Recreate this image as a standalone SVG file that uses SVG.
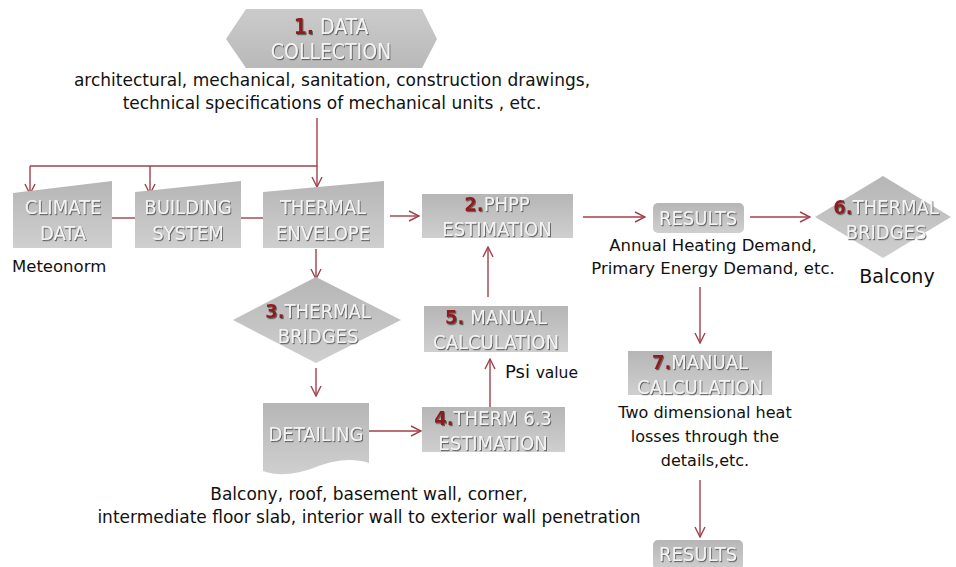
<svg xmlns="http://www.w3.org/2000/svg" width="956" height="567" viewBox="0 0 956 567">
  <defs>
    <linearGradient id="shade" x1="0" y1="0" x2="0" y2="1">
      <stop offset="0" stop-color="#b6b6b6"/>
      <stop offset="1" stop-color="#cfcfcf"/>
    </linearGradient>
    <linearGradient id="shadeHex" x1="0" y1="0" x2="0" y2="1">
      <stop offset="0" stop-color="#cbcbcb"/>
      <stop offset="1" stop-color="#b9b9b9"/>
    </linearGradient>
    <filter id="emboss" x="-10%" y="-20%" width="120%" height="150%">
      <feDropShadow dx="1" dy="1.2" stdDeviation="0.7" flood-color="#555" flood-opacity="0.85"/>
    </filter>
    <marker id="arrow" viewBox="0 0 12 12" refX="11" refY="6" markerWidth="12" markerHeight="12" markerUnits="userSpaceOnUse" orient="auto">
      <path d="M1,1 L11,6 L1,11" fill="none" stroke="#a3404a" stroke-width="1.4"/>
    </marker>
    <style>
      .shape { fill: url(#shade); }
      .label { font-family: "DejaVu Sans Condensed", "DejaVu Sans", sans-serif; font-stretch: condensed; font-size: 20px; fill: #f3f3f3; text-anchor: middle; filter: url(#emboss); }
      .num { fill: #8e1b1f; font-weight: bold; }
      .note { font-family: "DejaVu Sans", "Liberation Sans", sans-serif; font-size: 17px; fill: #111; text-anchor: middle; }
      .link { fill: none; stroke: #a3404a; stroke-width: 1.4; }
      .link-a { fill: none; stroke: #a3404a; stroke-width: 1.4; marker-end: url(#arrow); }
    </style>
  </defs>

  <!-- connectors -->
  <g id="connectors">
    <path class="link" d="M317,118 V166 H30"/>
    <path class="link-a" d="M30,166 V194"/>
    <path class="link-a" d="M150,166 V194"/>
    <path class="link-a" d="M317,166 V187"/>
    <path class="link" d="M112,218 H135"/>
    <path class="link" d="M241,218 H263"/>
    <path class="link-a" d="M390,216 H419"/>
    <path class="link-a" d="M316,249 V279"/>
    <path class="link-a" d="M316,368 V396"/>
    <path class="link-a" d="M369,431 H421"/>
    <path class="link-a" d="M490,407 V359"/>
    <path class="link-a" d="M488,297 V247"/>
    <path class="link-a" d="M583,217 H645"/>
    <path class="link-a" d="M750,217 H810"/>
    <path class="link-a" d="M700,287 V343"/>
    <path class="link-a" d="M700,480 V537"/>
  </g>

  <!-- 1. data collection -->
  <g id="data-collection">
    <polygon class="shape" style="fill:url(#shadeHex)" points="226,39 246,9 422,9 437,39 422,68 246,68"/>
    <text class="label" x="331" y="34" style="font-size:21px"><tspan class="num">1.</tspan> DATA</text>
    <text class="label" x="331" y="59" style="font-size:21px">COLLECTION</text>
    <text class="note" x="332" y="86">architectural, mechanical, sanitation, construction drawings,</text>
    <text class="note" x="332" y="109">technical specifications of mechanical units , etc.</text>
  </g>

  <g id="climate-data">
    <polygon class="shape" points="13,193 112,181 112,248 13,248"/>
    <text class="label" x="63" y="214">CLIMATE</text>
    <text class="label" x="63" y="240">DATA</text>
    <text class="note" x="12" y="272" style="text-anchor:start;font-size:16.5px">Meteonorm</text>
  </g>

  <g id="building-system">
    <polygon class="shape" points="135,192 241,181 241,248 135,248"/>
    <text class="label" x="188" y="214">BUILDING</text>
    <text class="label" x="188" y="240">SYSTEM</text>
  </g>

  <g id="thermal-envelope">
    <polygon class="shape" points="263,192 384,181 384,248 263,248"/>
    <text class="label" x="323" y="214">THERMAL</text>
    <text class="label" x="323" y="240">ENVELOPE</text>
  </g>

  <g id="phpp-estimation">
    <rect class="shape" x="422" y="194" width="151" height="44"/>
    <text class="label" x="497" y="211"><tspan class="num">2.</tspan>PHPP</text>
    <text class="label" x="497" y="236">ESTIMATION</text>
  </g>

  <g id="results">
    <rect class="shape" x="653" y="203" width="91" height="30" rx="5"/>
    <text class="label" x="698" y="225">RESULTS</text>
    <text class="note" x="713" y="251" style="font-size:16.5px">Annual Heating Demand,</text>
    <text class="note" x="713" y="274" style="font-size:16.5px">Primary Energy Demand, etc.</text>
  </g>

  <g id="thermal-bridges-balcony">
    <polygon class="shape" points="815,217 883,176 951,217 883,258"/>
    <text class="label" x="886" y="214"><tspan class="num">6.</tspan>THERMAL</text>
    <text class="label" x="886" y="239">BRIDGES</text>
    <text class="note" x="897" y="283" style="font-size:19px">Balcony</text>
  </g>

  <g id="thermal-bridges">
    <polygon class="shape" points="233,320 316,277 401,320 316,363"/>
    <text class="label" x="318" y="318"><tspan class="num">3.</tspan>THERMAL</text>
    <text class="label" x="318" y="343">BRIDGES</text>
  </g>

  <g id="manual-calculation-psi">
    <rect class="shape" x="424" y="306" width="144" height="46"/>
    <text class="label" x="496" y="324"><tspan class="num">5.</tspan> MANUAL</text>
    <text class="label" x="496" y="349">CALCULATION</text>
    <text class="note" x="505" y="378" style="text-anchor:start;font-size:18px">Psi <tspan style="font-size:15.5px">value</tspan></text>
  </g>

  <g id="detailing">
    <path class="shape" d="M263,403 H369 V463 C350,457 332,461 316,467 C298,474 280,477 263,471 Z"/>
    <text class="label" x="316" y="441">DETAILING</text>
  </g>

  <g id="therm-estimation">
    <rect class="shape" x="422" y="407" width="143" height="45"/>
    <text class="label" x="493" y="425"><tspan class="num">4.</tspan>THERM 6.3</text>
    <text class="label" x="493" y="450">ESTIMATION</text>
    <text class="note" x="369" y="500">Balcony, roof, basement wall, corner,</text>
    <text class="note" x="369" y="523">intermediate floor slab, interior wall to exterior wall penetration</text>
  </g>

  <g id="manual-calculation-2d">
    <rect class="shape" x="628" y="351" width="144" height="44"/>
    <text class="label" x="700" y="369"><tspan class="num">7.</tspan>MANUAL</text>
    <text class="label" x="700" y="394">CALCULATION</text>
    <text class="note" x="705" y="418" style="font-size:16px">Two dimensional heat</text>
    <text class="note" x="705" y="442" style="font-size:16px">losses through the</text>
    <text class="note" x="705" y="466" style="font-size:16px">details,etc.</text>
  </g>

  <g id="results-final">
    <rect class="shape" x="653" y="540" width="90" height="30" rx="5"/>
    <text class="label" x="698" y="561">RESULTS</text>
  </g>
</svg>
